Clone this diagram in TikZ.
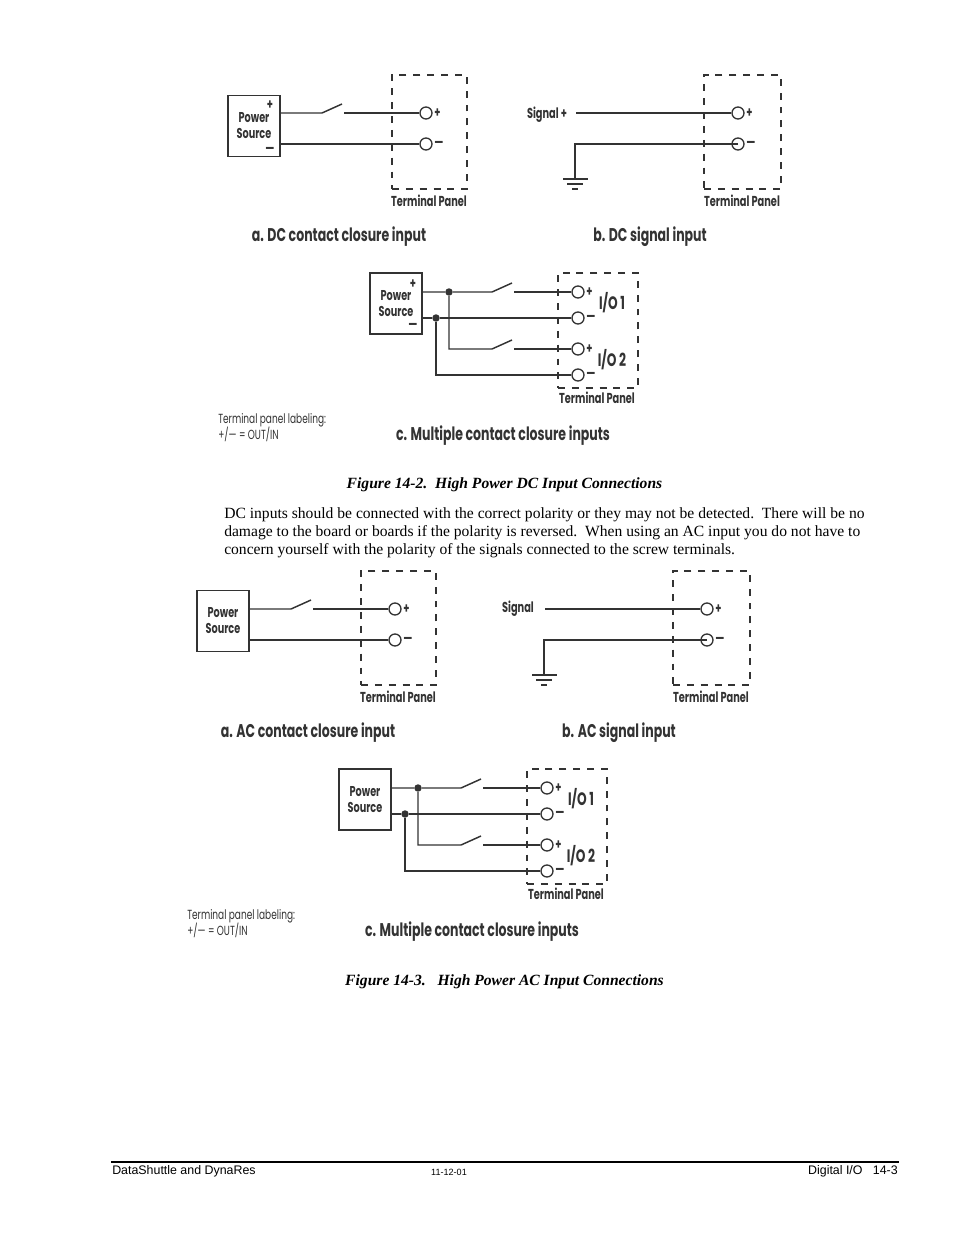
\documentclass[tikz,border=0pt]{standalone}
\usepackage{fontspec}
\usepackage{tikz}
\usetikzlibrary{positioning}
\setmainfont{Liberation Serif}
\newfontfamily\figfont[FakeStretch=0.68]{Poppins}
\newfontfamily\footfont{Liberation Sans}
\tikzset{
    wire/.style={line width=1.1pt, black!80},
    powerbox/.style={draw, line width=1pt, black!80, minimum width=39pt, minimum height=45.75pt, inner sep=0pt, align=center, text=black!80, font=\figfont\bfseries\fontsize{10.7}{12}\selectfont},
    panel/.style={draw, line width=0.8pt, black!80, dash pattern=on 5.2pt off 5.2pt},
    terminal/.style={circle, draw, line width=1pt, black!80, fill=white, minimum size=9pt, inner sep=0pt},
    junction/.style={circle, fill=black!80, minimum size=5.6pt, inner sep=0pt},
    figtext/.style={text=black!80, inner sep=0pt, font=\figfont\bfseries\fontsize{10.8}{12}\selectfont},
    iotext/.style={text=black!80, inner sep=0pt, font=\figfont\bfseries\fontsize{13.5}{14}\selectfont},
    figtitle/.style={text=black!80, inner sep=0pt, font=\figfont\bfseries\fontsize{13.8}{15}\selectfont},
    notetext/.style={text=black!80, inner sep=0pt, align=left, font=\figfont\fontsize{9.9}{11.25}\selectfont},
    bodytext/.style={anchor=west, inner sep=0pt, font=\fontsize{11.7}{14}\selectfont},
    captext/.style={inner sep=0pt, font=\bfseries\itshape\fontsize{11.7}{14}\selectfont},
    foottext/.style={inner sep=0pt, font=\footfont\fontsize{9.3}{11}\selectfont}
}

\begin{document}
\begin{tikzpicture}[x=0.75pt, y=-0.75pt]
    \useasboundingbox (0,0) rectangle (954,1235);
    % the DC and AC figures only differ by this shift and their words
    \foreach \kind/\dx/\dy/\sig/\sigx/\sigy/\boxy in {DC/0/0/Signal +/547/115/126, AC/-31/496/Signal/549/113/125} {
    \begin{scope}[shift={(\dx,\dy)}]
        % a. contact closure
        \node[panel, minimum width=56.25pt, minimum height=85.5pt] (\kind a panel) at (429.5,132) {};
        \node[powerbox] (\kind a box) at (254,\boxy) {Power\\Source};
        \node[terminal] (\kind a plus) at (426,113) {};
        \node[terminal] (\kind a minus) at (426,144) {};
        \node[figtext, right=1pt of \kind a plus] (\kind a plustxt) {+};
        \node[figtext, right=1pt of \kind a minus] (\kind a minustxt) {—};
        \coordinate (\kind a hinge) at (322,113);
        \coordinate (\kind a tip) at (342,104);
        \coordinate (\kind a arm) at (344,113);
        \draw[wire] (\kind a box.east |- \kind a plus) -- (\kind a hinge) -- (\kind a tip);
        \draw[wire] (\kind a arm) -- (\kind a plus);
        \draw[wire] (\kind a box.east |- \kind a minus) -- (\kind a minus);
        \node[figtext] (\kind a label) at (429,201) {Terminal Panel};
        \node[figtitle] (\kind a title) at (339,237) {a. \kind\ contact closure input};
        % b. signal
        \node[panel, minimum width=57.75pt, minimum height=85.5pt] (\kind b panel) at (742.5,132) {};
        \node[terminal] (\kind b plus) at (738,113) {};
        \node[terminal] (\kind b minus) at (738,144) {};
        \node[figtext, right=1pt of \kind b plus] (\kind b plustxt) {+};
        \node[figtext, right=1pt of \kind b minus] (\kind b minustxt) {—};
        \node[figtext] (\kind b sig) at (\sigx,\sigy) {\sig};
        \coordinate (\kind b start) at (576,113);
        \coordinate (\kind b corner) at (575,144);
        \coordinate (\kind b gnd) at (575,179);
        \draw[wire] (\kind b start) -- (\kind b plus);
        \draw[wire] (\kind b minus.center) -- (\kind b corner) -- (\kind b gnd);
        \draw[wire] (\kind b gnd) ++(-12,0) -- ++(25,0);
        \draw[wire] (\kind b gnd) ++(-8,5) -- ++(16,0);
        \draw[wire] (\kind b gnd) ++(-3,10) -- ++(6,0);
        \node[figtext] (\kind b label) at (742,201) {Terminal Panel};
        \node[figtitle] (\kind b title) at (650,237) {b. \kind\ signal input};
        % c. multiple closures
        \node[panel, minimum width=60pt, minimum height=86.25pt] (\kind c panel) at (598,330.5) {};
        \node[powerbox] (\kind c box) at (396,303.5) {Power\\Source};
        \foreach \name/\y in {plusone/292, minusone/318, plustwo/349, minustwo/375}
            \node[terminal] (\kind c \name) at (578,\y) {};
        \node[figtext, right=1pt of \kind c plusone] (\kind c ptxtone) {+};
        \node[figtext, right=1pt of \kind c minusone] (\kind c mtxtone) {—};
        \node[figtext, right=1pt of \kind c plustwo] (\kind c ptxttwo) {+};
        \node[figtext, right=1pt of \kind c minustwo] (\kind c mtxttwo) {—};
        \node[junction] (\kind c dotp) at (449,292) {};
        \node[junction] (\kind c dotm) at (436,318) {};
        \coordinate (\kind c hingeone) at (492,292);
        \coordinate (\kind c tipone) at (512,283);
        \coordinate (\kind c armone) at (514,292);
        \coordinate (\kind c hingetwo) at (492,349);
        \coordinate (\kind c tiptwo) at (512,340);
        \coordinate (\kind c armtwo) at (514,349);
        \draw[wire] (\kind c box.east |- \kind c dotp) -- (\kind c dotp) -- (\kind c hingeone) -- (\kind c tipone);
        \draw[wire] (\kind c armone) -- (\kind c plusone);
        \draw[wire] (\kind c box.east |- \kind c dotm) -- (\kind c dotm) -- (\kind c minusone);
        \draw[wire] (\kind c dotp) -- (\kind c dotp |- \kind c plustwo) -- (\kind c hingetwo) -- (\kind c tiptwo);
        \draw[wire] (\kind c armtwo) -- (\kind c plustwo);
        \draw[wire] (\kind c dotm) -- (\kind c dotm |- \kind c minustwo) -- (\kind c minustwo);
        \node[iotext] (\kind c ioone) at (612,303) {I/O 1};
        \node[iotext] (\kind c iotwo) at (612,360) {I/O 2};
        \node[figtext] (\kind c label) at (597,398) {Terminal Panel};
        \node[figtitle] (\kind c title) at (503,436) {c. Multiple contact closure inputs};
        \node[notetext, anchor=west] (\kind c note) at (218,427.5) {Terminal panel labeling:\\[-1.5pt]+/— = OUT/IN};
    \end{scope}
    }
    % only the DC boxes carry polarity marks
    \node[figtext] (DC a boxplus) at (270,105) {+};
    \node[figtext] (DC a boxminus) at (270,150) {—};
    \node[figtext] (DC c boxplus) at (413,284) {+};
    \node[figtext] (DC c boxminus) at (413,326) {—};
    % page text
    \node[captext] (figdc) at (504.5,484.5) {Figure 14-2.\ \ High Power DC Input Connections};
    \node[bodytext] (bodyone) at (224,514.5) {DC inputs should be connected with the correct polarity or they may not be detected.\ \ There will be no};
    \node[bodytext] (bodytwo) at (224,532.5) {damage to the board or boards if the polarity is reversed.\ \ When using an AC input you do not have to};
    \node[bodytext] (bodythree) at (224,550.5) {concern yourself with the polarity of the signals connected to the screw terminals.};
    \node[captext] (figac) at (504.5,981.5) {Figure 14-3.\ \ \ High Power AC Input Connections};
    \coordinate (ruleleft) at (111,1162);
    \coordinate (ruleright) at (899,1162);
    \draw[line width=1.1pt] (ruleleft) -- (ruleright);
    \node[foottext, anchor=west] (footleft) at (112,1171.5) {DataShuttle and DynaRes};
    \node[foottext, font=\footfont\fontsize{6.8}{8}\selectfont] (footmid) at (449,1172) {11-12-01};
    \node[foottext, anchor=east] (footright) at (898,1171.5) {Digital I/O\ \ \ 14-3};
\end{tikzpicture}
\end{document}
